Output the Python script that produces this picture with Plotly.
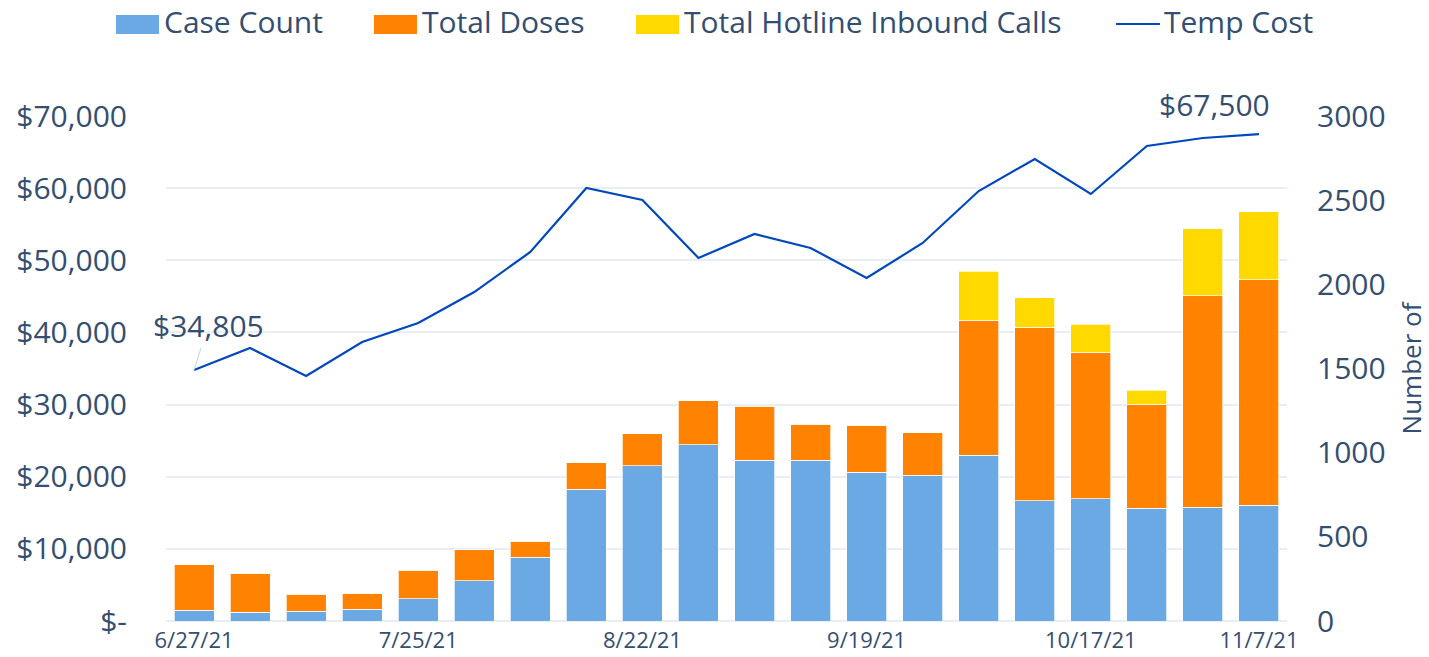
import plotly.graph_objects as go

# weekly data
weeks = ["6/27/21", "7/4/21", "7/11/21", "7/18/21", "7/25/21", "8/1/21", "8/8/21",
         "8/15/21", "8/22/21", "8/29/21", "9/5/21", "9/12/21", "9/19/21", "9/26/21",
         "10/3/21", "10/10/21", "10/17/21", "10/24/21", "10/31/21", "11/7/21"]
case_count = [65, 53, 59, 71, 131, 238, 380, 784, 921, 1046,
              956, 956, 885, 867, 986, 713, 725, 671, 677, 689]
total_doses = [268, 232, 101, 95, 172, 184, 95, 155, 190, 261,
               321, 214, 279, 250, 802, 1033, 873, 618, 1254, 1337]
hotline_calls = [0, 0, 0, 0, 0, 0, 0, 0, 0, 0,
                 0, 0, 0, 0, 291, 173, 166, 83, 398, 404]
temp_cost = [34805, 37840, 33960, 38670, 41300, 45600, 51150, 60020, 58360, 50320,
             53650, 51700, 47550, 52400, 59600, 64040, 59190, 65840, 66950, 67500]

x_tick_weeks = ["6/27/21", "7/25/21", "8/22/21", "9/19/21", "10/17/21", "11/7/21"]
cost_ticks = [0, 10000, 20000, 30000, 40000, 50000, 60000, 70000]
cost_tick_labels = ["$-", "$10,000", "$20,000", "$30,000", "$40,000",
                    "$50,000", "$60,000", "$70,000"]
count_ticks = [0, 500, 1000, 1500, 2000, 2500, 3000]

TEXT = "#334E70"
FONT = "Open Sans"
C_CASE = "#6AA9E4"
C_DOSES = "#FF8200"
C_HOTLINE = "#FFD900"
C_COST = "#0048BC"

W, H = 1429, 657
# plot area in pixels: x 166..1287, y 116..621
PX_L, PX_R, PX_T, PX_B = 166, 1287, 116, 621


def px_x(p):
    return (p - PX_L) / (PX_R - PX_L)


def px_y(p):
    return (PX_B - p) / (PX_B - PX_T)


fig = go.Figure()

edge = dict(color="rgba(255,255,255,0.7)", width=1)
fig.add_trace(go.Bar(x=weeks, y=case_count, name="Case Count", yaxis="y2",
                     marker=dict(color=C_CASE, line=edge)))
fig.add_trace(go.Bar(x=weeks, y=total_doses, name="Total Doses", yaxis="y2",
                     marker=dict(color=C_DOSES, line=edge)))
fig.add_trace(go.Bar(x=weeks, y=hotline_calls, name="Total Hotline Inbound Calls", yaxis="y2",
                     marker=dict(color=C_HOTLINE, line=edge)))
fig.add_trace(go.Scatter(x=weeks, y=temp_cost, name="Temp Cost", mode="lines",
                         line=dict(color=C_COST, width=2.2)))

# end-point labels
fig.add_annotation(x=weeks[0], y=temp_cost[0], xref="x", yref="y",
                   text="$34,805", showarrow=True, arrowhead=0, arrowwidth=1,
                   arrowcolor="#BCD6F1", ax=14, ay=-44,
                   font=dict(family=FONT, size=30, color=TEXT))
fig.add_annotation(x=weeks[-1], y=temp_cost[-1], xref="x", yref="y",
                   text="$67,500", showarrow=False, xshift=-44, yshift=30,
                   font=dict(family=FONT, size=30, color=TEXT))

# legend drawn by hand so the swatches match the wide Excel style
legend_items = [
    ("Case Count", C_CASE, 116, 159, 163),
    ("Total Doses", C_DOSES, 374, 417, 421),
    ("Total Hotline Inbound Calls", C_HOTLINE, 636, 679, 683),
]
for label, color, x0, x1, tx in legend_items:
    fig.add_shape(type="rect", xref="paper", yref="paper",
                  x0=px_x(x0), x1=px_x(x1), y0=px_y(34), y1=px_y(15),
                  fillcolor=color, line=dict(width=0))
    fig.add_annotation(xref="paper", yref="paper", x=px_x(tx), y=px_y(21),
                       xanchor="left", yanchor="middle", showarrow=False,
                       borderpad=0, text=label,
                       font=dict(family=FONT, size=30, color=TEXT))
fig.add_shape(type="line", xref="paper", yref="paper",
              x0=px_x(1116), x1=px_x(1160), y0=px_y(24), y1=px_y(24),
              line=dict(color=C_COST, width=2.2))
fig.add_annotation(xref="paper", yref="paper", x=px_x(1163), y=px_y(21),
                   xanchor="left", yanchor="middle", showarrow=False,
                   borderpad=0, text="Temp Cost",
                   font=dict(family=FONT, size=30, color=TEXT))

fig.update_layout(
    width=W, height=H, autosize=False,
    margin=dict(l=PX_L, r=W - PX_R, t=PX_T, b=H - PX_B, pad=0),
    paper_bgcolor="white", plot_bgcolor="white",
    barmode="stack", bargap=0.286,
    showlegend=False,
    font=dict(family=FONT, color=TEXT),
    xaxis=dict(type="category", range=[-0.5, 19.5], tickmode="array",
               tickvals=x_tick_weeks, ticktext=x_tick_weeks,
               tickfont=dict(size=22, color=TEXT), automargin=False,
               showgrid=False, showline=False, ticks="", ticklabelstandoff=4),
    yaxis=dict(range=[0, 70000], tickmode="array", tickvals=cost_ticks,
               ticktext=cost_tick_labels, tickfont=dict(size=30, color=TEXT),
               showgrid=True, gridcolor="#E7EEF6", gridwidth=1.5,
               zeroline=True, zerolinecolor="#E7EEF6", zerolinewidth=1.5,
               showline=False, ticks="", ticklabelstandoff=38, automargin=False),
    yaxis2=dict(range=[0, 3000], tickmode="array", tickvals=count_ticks,
                tickfont=dict(size=30, color=TEXT), overlaying="y", side="right",
                showgrid=False, zeroline=False, showline=False, ticks="",
                ticklabelstandoff=29, automargin=False,
                title=dict(text="Number of", standoff=19,
                           font=dict(family=FONT, size=26, color=TEXT))),
)

# drop the default body margin so the figure sits at the window's top-left corner
fig.write_html("out.html", config={"displayModeBar": False},
               post_script="document.body.style.margin = '0';")
